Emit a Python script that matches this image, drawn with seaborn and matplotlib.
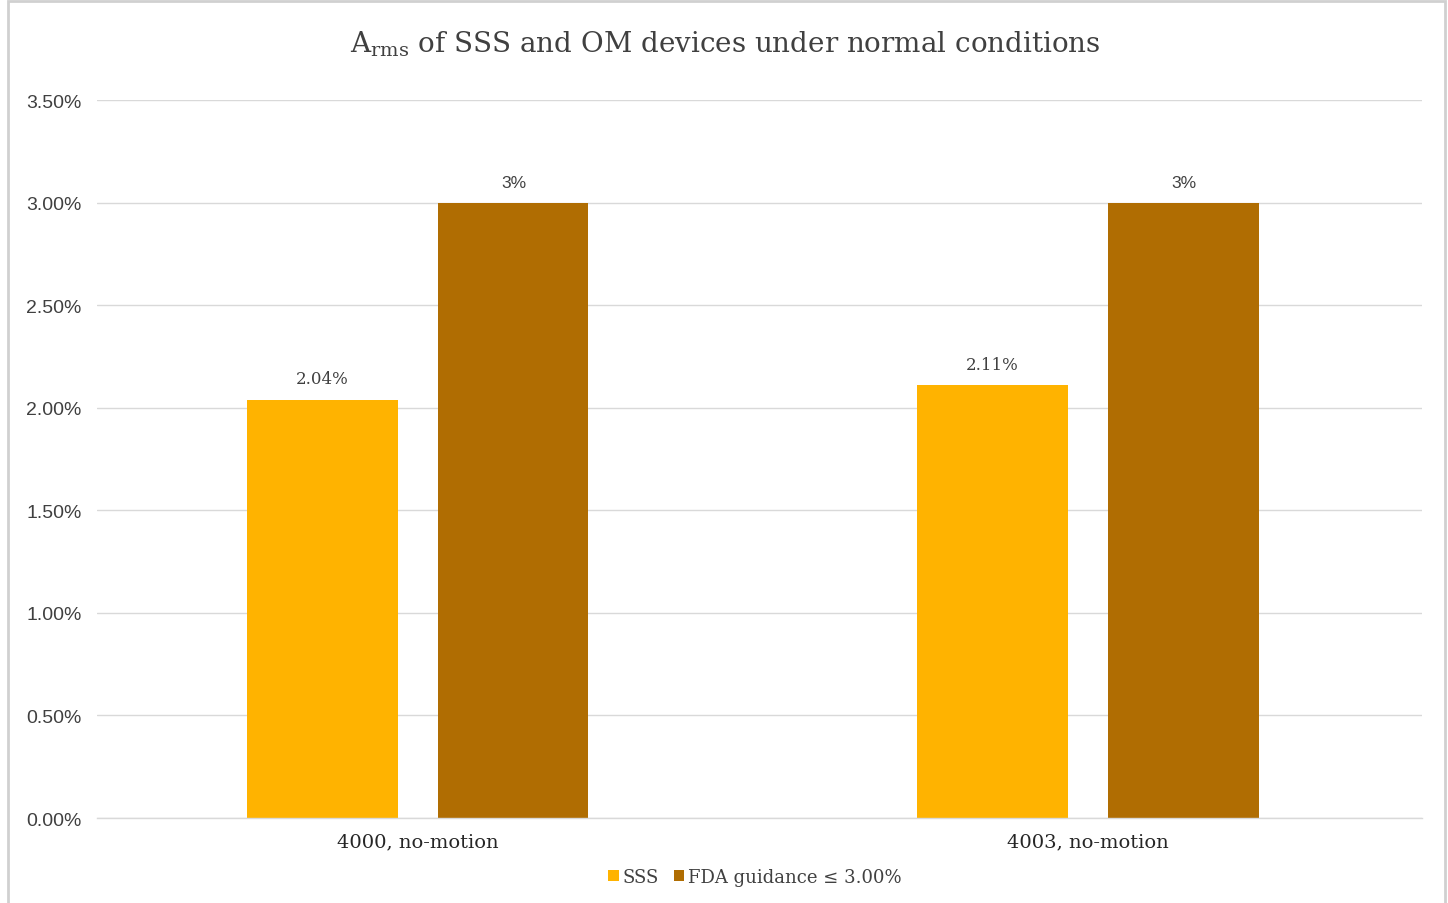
import matplotlib
matplotlib.use("Agg")
import matplotlib.pyplot as plt
import seaborn as sns
import pandas as pd
from matplotlib.patches import Rectangle

categories = ["4000, no-motion", "4003, no-motion"]
series_names = ["SSS", "FDA guidance \u2264 3.00%"]
sss_values = [0.0204, 0.0211]
fda_values = [0.03, 0.03]
sss_labels = ["2.04%", "2.11%"]
fda_labels = ["3%", "3%"]
yticks = [0.0, 0.005, 0.01, 0.015, 0.02, 0.025, 0.03, 0.035]
ytick_labels = ["0.00%", "0.50%", "1.00%", "1.50%", "2.00%", "2.50%", "3.00%", "3.50%"]
colors = ["#FFB300", "#B06D02"]

df = pd.DataFrame({
    "category": categories * 2,
    "series": [series_names[0]] * 2 + [series_names[1]] * 2,
    "value": sss_values + fda_values,
})

sns.set_theme(style="white")
plt.rcParams["mathtext.fontset"] = "dejavuserif"
SERIF = "DejaVu Serif"
SANS = "Liberation Sans"

fig = plt.figure(figsize=(14.48, 9.04), dpi=100)
ax = fig.add_axes([97/1448, 1 - 819/904, (1422-97)/1448, (819-101)/904])

sns.barplot(data=df, x="category", y="value", hue="series", palette=colors,
            width=0.570, gap=0.214, ax=ax, saturation=1, errorbar=None,
            linewidth=0)

ax.set_xlim(-0.479, 1.4985)
ax.set_ylim(0, 0.035)
ax.set_yticks(yticks)
ax.set_yticklabels(ytick_labels, fontfamily=SANS, fontsize=14, color="#404040")
ax.set_xticks(range(len(categories)))
ax.set_xticklabels(categories, fontfamily=SERIF, fontsize=14, color="#262626")
ax.tick_params(axis="y", length=0, pad=11)
ax.tick_params(axis="x", length=0, pad=10)
ax.set_xlabel("")
ax.set_ylabel("")
ax.yaxis.grid(True, color="#D9D9D9", linewidth=1)
ax.set_axisbelow(True)
for s in ["top", "right", "left"]:
    ax.spines[s].set_visible(False)
ax.spines["bottom"].set_color("#D9D9D9")
ax.spines["bottom"].set_linewidth(1)

ax.bar_label(ax.containers[0], labels=sss_labels, padding=9,
             fontfamily=SERIF, fontsize=12, color="#404040")
ax.bar_label(ax.containers[1], labels=fda_labels, padding=9,
             fontfamily=SANS, fontsize=12.5, color="#404040")

handles, labels = ax.get_legend_handles_labels()
ax.legend(handles, labels, loc="center", bbox_to_anchor=(755/1448, (904 - 878) / 904),
          bbox_transform=fig.transFigure, ncol=2, frameon=False,
          handlelength=0.6, handleheight=0.6, handletextpad=0.2,
          columnspacing=0.8, prop={"family": SERIF, "size": 13},
          labelcolor="#404040")

fig.text(725/1448, 1 - 44/904, r"A$_{\mathrm{rms}}$ of SSS and OM devices under normal conditions",
         ha="center", va="center", fontfamily=SERIF, fontsize=20, color="#404040")

fig.patches.append(Rectangle((8/1448, -0.01), (1445-8)/1448, 1 - 2/904 + 0.01,
                             transform=fig.transFigure, fill=False,
                             edgecolor="#D0D0D0", linewidth=2))

fig.savefig("out.png", dpi=100)
